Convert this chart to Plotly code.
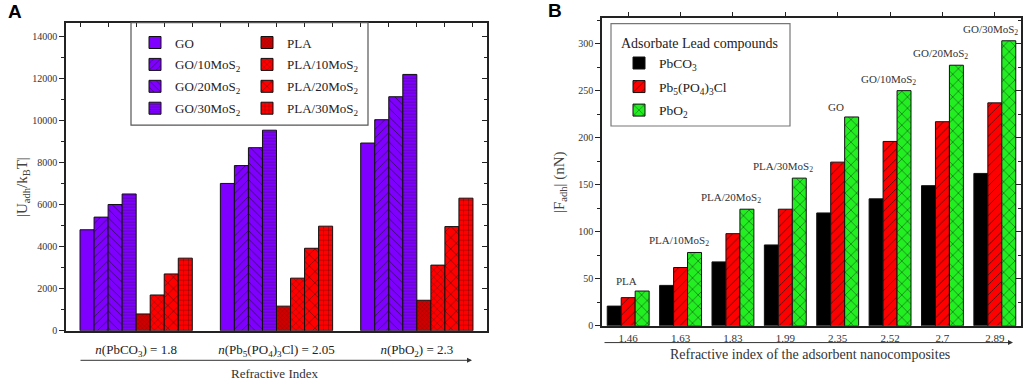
import plotly.graph_objects as go

# ---------------- data ----------------
groups_a = ["<i>n</i>(PbCO<sub>3</sub>) = 1.8",
            "<i>n</i>(Pb<sub>5</sub>(PO<sub>4</sub>)<sub>3</sub>Cl) = 2.05",
            "<i>n</i>(PbO<sub>2</sub>) = 2.3"]
series_a_names = ["GO", "GO/10MoS<sub>2</sub>", "GO/20MoS<sub>2</sub>", "GO/30MoS<sub>2</sub>",
                  "PLA", "PLA/10MoS<sub>2</sub>", "PLA/20MoS<sub>2</sub>", "PLA/30MoS<sub>2</sub>"]
go_vals = [4800, 7000, 8920]
go10_vals = [5400, 7850, 10030]
go20_vals = [6000, 8700, 11120]
go30_vals = [6500, 9530, 12180]
pla_vals = [800, 1170, 1450]
pla10_vals = [1700, 2500, 3120]
pla20_vals = [2700, 3920, 4950]
pla30_vals = [3450, 4970, 6300]

ri_b = ["1.46", "1.63", "1.83", "1.99", "2.35", "2.52", "2.7", "2.89"]
composites_b = ["PLA", "PLA/10MoS<sub>2</sub>", "PLA/20MoS<sub>2</sub>", "PLA/30MoS<sub>2</sub>",
                "GO", "GO/10MoS<sub>2</sub>", "GO/20MoS<sub>2</sub>", "GO/30MoS<sub>2</sub>"]
pbco3_vals = [21, 43, 68, 86, 120, 135, 149, 162]
pb5_vals = [30, 62, 98, 124, 174, 196, 217, 237]
pbo2_vals = [37, 78, 124, 157, 222, 250, 277, 303]
series_b_names = ["PbCO<sub>3</sub>", "Pb<sub>5</sub>(PO<sub>4</sub>)<sub>3</sub>Cl", "PbO<sub>2</sub>"]

# ---------------- style ----------------
W, H = 1024, 386
SERIF = "Liberation Serif, Times New Roman, serif"
PURPLE = "#8000FF"
RED = "#FF0000"
DRED = "#D00000"
GREEN = "#22EE22"

def px(x):
    return x / W

def py(y):
    return 1 - y / H

fig = go.Figure()

a_values = [go_vals, go10_vals, go20_vals, go30_vals, pla_vals, pla10_vals, pla20_vals, pla30_vals]
a_styles = [
    (PURPLE, "", 8),
    (PURPLE, "/", 6),
    (PURPLE, "\\", 6),
    (PURPLE, "-", 3),
    (DRED, "x", 3),
    (RED, "x", 5),
    (RED, "x", 8),
    (RED, "+", 5),
]
for i, (name, vals, (col, shp, sz)) in enumerate(zip(series_a_names, a_values, a_styles)):
    pattern = dict(shape=shp, size=sz, solidity=0.12, fgcolor="#111111", fgopacity=0.85) if shp else None
    fig.add_trace(go.Bar(
        x=groups_a, y=vals, name=name, xaxis="x", yaxis="y", legendgroup=f"a{i}",
        marker=dict(color=col, line=dict(color="#111111", width=1), pattern=pattern),
        legend="legend" if i < 4 else "legend2",
    ))

b_values = [pbco3_vals, pb5_vals, pbo2_vals]
b_styles = [("#000000", "", 8), (RED, "/", 7), (GREEN, "x", 8)]
for i, (name, vals, (col, shp, sz)) in enumerate(zip(series_b_names, b_values, b_styles)):
    pattern = dict(shape=shp, size=sz, solidity=0.12, fgcolor="#111111", fgopacity=0.85) if shp else None
    fig.add_trace(go.Bar(
        x=ri_b, y=vals, name=name, xaxis="x2", yaxis="y2", legendgroup=f"b{i}",
        marker=dict(color=col, line=dict(color="#111111", width=1), pattern=pattern),
        legend="legend3",
    ))

# dummy traces for overlay tick axes
fig.add_trace(go.Scatter(x=[], y=[], xaxis="x3", yaxis="y3", showlegend=False))
fig.add_trace(go.Scatter(x=[], y=[], xaxis="x4", yaxis="y4", showlegend=False))

dom_ax = [px(66), px(487)]
dom_ay = [py(336), py(23)]
dom_bx = [px(602), px(1021)]
dom_by = [py(331), py(18)]

tickfont = dict(family=SERIF, size=10, color="#333333")
line = dict(showline=True, linecolor="#222222", linewidth=1.5)
lfont = dict(family=SERIF, size=13, color="#222222")

fig.update_layout(
    width=W, height=H,
    margin=dict(l=0, r=0, t=0, b=0),
    paper_bgcolor="white", plot_bgcolor="white",
    barmode="group", bargap=0.2, bargroupgap=0,
    font=dict(family=SERIF, color="#222222"),
    xaxis=dict(domain=dom_ax, anchor="y", type="category", range=[-0.5, 2.5], ticks="", ticklen=0,
               mirror=True, tickfont=dict(family=SERIF, size=13, color="#222222"),
               ticklabelstandoff=6, **line),
    yaxis=dict(domain=dom_ay, anchor="x", range=[0, 14640], dtick=2000, tickformat="d",
               ticks="outside", ticklen=5,
               tickcolor="#222222", showgrid=False, zeroline=False, mirror=True, tickfont=tickfont,
               minor=dict(dtick=1000, ticks="outside", ticklen=3, tickcolor="#222222"), **line),
    xaxis3=dict(overlaying="x", anchor="y", side="top", range=[-0.5, 2.5], tick0=-0.4, dtick=0.2,
                ticks="inside", ticklen=4, tickcolor="#222222", showticklabels=False,
                showgrid=False, zeroline=False, showline=False),
    yaxis3=dict(overlaying="y", anchor="x", side="right", range=[0, 14640], dtick=2000,
                ticks="inside", ticklen=5, tickcolor="#222222", showticklabels=False,
                showgrid=False, zeroline=False, showline=False,
                minor=dict(dtick=1000, ticks="inside", ticklen=3, tickcolor="#222222")),
    xaxis2=dict(domain=dom_bx, anchor="y2", type="category", range=[-0.5, 7.5], ticks="", ticklen=0,
                mirror=True, tickfont=dict(family=SERIF, size=11, color="#333333"),
                ticklabelstandoff=1, **line),
    yaxis2=dict(domain=dom_by, anchor="x2", range=[0, 327.5], dtick=50, tickformat="d",
                ticks="outside", ticklen=5,
                tickcolor="#222222", showgrid=False, zeroline=False, mirror=True, tickfont=tickfont,
                minor=dict(dtick=25, ticks="outside", ticklen=3, tickcolor="#222222"), **line),
    xaxis4=dict(overlaying="x2", anchor="y2", side="top", range=[-0.5, 7.5], tick0=0, dtick=1,
                ticks="outside", ticklen=5, tickcolor="#222222", showticklabels=False,
                showgrid=False, zeroline=False, showline=False),
    yaxis4=dict(overlaying="y2", anchor="x2", side="right", range=[0, 327.5], dtick=50,
                ticks="inside", ticklen=5, tickcolor="#222222", showticklabels=False,
                showgrid=False, zeroline=False, showline=False,
                minor=dict(dtick=25, ticks="inside", ticklen=3, tickcolor="#222222")),
    legend=dict(x=px(135), y=py(28), xanchor="left", yanchor="top", bgcolor="rgba(0,0,0,0)",
                font=lfont, itemwidth=30, tracegroupgap=2),
    legend2=dict(x=px(247), y=py(28), xanchor="left", yanchor="top", bgcolor="rgba(0,0,0,0)",
                 font=lfont, itemwidth=30, tracegroupgap=2),
    legend3=dict(x=px(619), y=py(30), xanchor="left", yanchor="top", bgcolor="rgba(0,0,0,0)",
                 font=dict(family=SERIF, size=13.5, color="#222222"), itemwidth=30, tracegroupgap=3,
                 title=dict(text="Adsorbate Lead compounds",
                            font=dict(family=SERIF, size=14, color="#222222"))),
    shapes=[
        dict(type="rect", xref="paper", yref="paper", x0=px(131), x1=px(368), y0=py(127), y1=py(23),
             line=dict(color="#555555", width=1.2), fillcolor="rgba(0,0,0,0)"),
        dict(type="rect", xref="paper", yref="paper", x0=px(611), x1=px(790), y0=py(128), y1=py(24),
             line=dict(color="#777777", width=1.2), fillcolor="rgba(0,0,0,0)"),
    ],
)

ann = []
# panel letters
ann.append(dict(text="<b>A</b>", x=px(6), y=py(12), xref="paper", yref="paper", showarrow=False,
                xanchor="left", yanchor="middle", font=dict(family="Liberation Sans", size=19, color="#000")))
ann.append(dict(text="<b>B</b>", x=px(546), y=py(11), xref="paper", yref="paper", showarrow=False,
                xanchor="left", yanchor="middle", font=dict(family="Liberation Sans", size=19, color="#000")))
# y titles
ann.append(dict(text="|U<sub>adh</sub>/k<sub>B</sub>T|", x=px(12), y=py(190), xref="paper", yref="paper",
                showarrow=False, textangle=-90, font=dict(family=SERIF, size=15, color="#444444")))
ann.append(dict(text="|F<sub>adh</sub>| (nN)", x=px(560), y=py(185), xref="paper", yref="paper",
                showarrow=False, textangle=-90, font=dict(family=SERIF, size=15, color="#444444")))
# x titles
ann.append(dict(text="Refractive Index", x=px(274), y=py(379), xref="paper", yref="paper",
                xanchor="center", yanchor="middle",
                showarrow=False, font=dict(family=SERIF, size=13, color="#333333")))
ann.append(dict(text="Refractive index of the adsorbent nanocomposites", x=px(810), y=py(360),
                xref="paper", yref="paper", showarrow=False, xanchor="center", yanchor="middle",
                font=dict(family=SERIF, size=14, color="#333333")))
# arrows
ann.append(dict(text="", x=px(472), y=py(366), xref="paper", yref="paper", showarrow=True,
                ax=-393, ay=0, arrowhead=2, arrowsize=1, arrowwidth=1, arrowcolor="#333333"))
ann.append(dict(text="", x=px(1013), y=py(348), xref="paper", yref="paper", showarrow=True,
                ax=-410, ay=0, arrowhead=2, arrowsize=1, arrowwidth=1, arrowcolor="#333333"))
# composite labels above groups in panel B
n_b = len(composites_b)
for i, (lab, v) in enumerate(zip(composites_b, pbo2_vals)):
    last = i == n_b - 1
    ann.append(dict(text=lab, x=i, y=v, xref="x2", yref="y2", showarrow=False,
                    xanchor="right" if last else "center", yanchor="bottom", yshift=2,
                    xshift=25 if last else -2,
                    font=dict(family=SERIF, size=11, color="#333333")))
fig.update_layout(annotations=ann)

fig.write_html("out.html", config={"displayModeBar": False},
               post_script="document.body.style.margin='0px';")
